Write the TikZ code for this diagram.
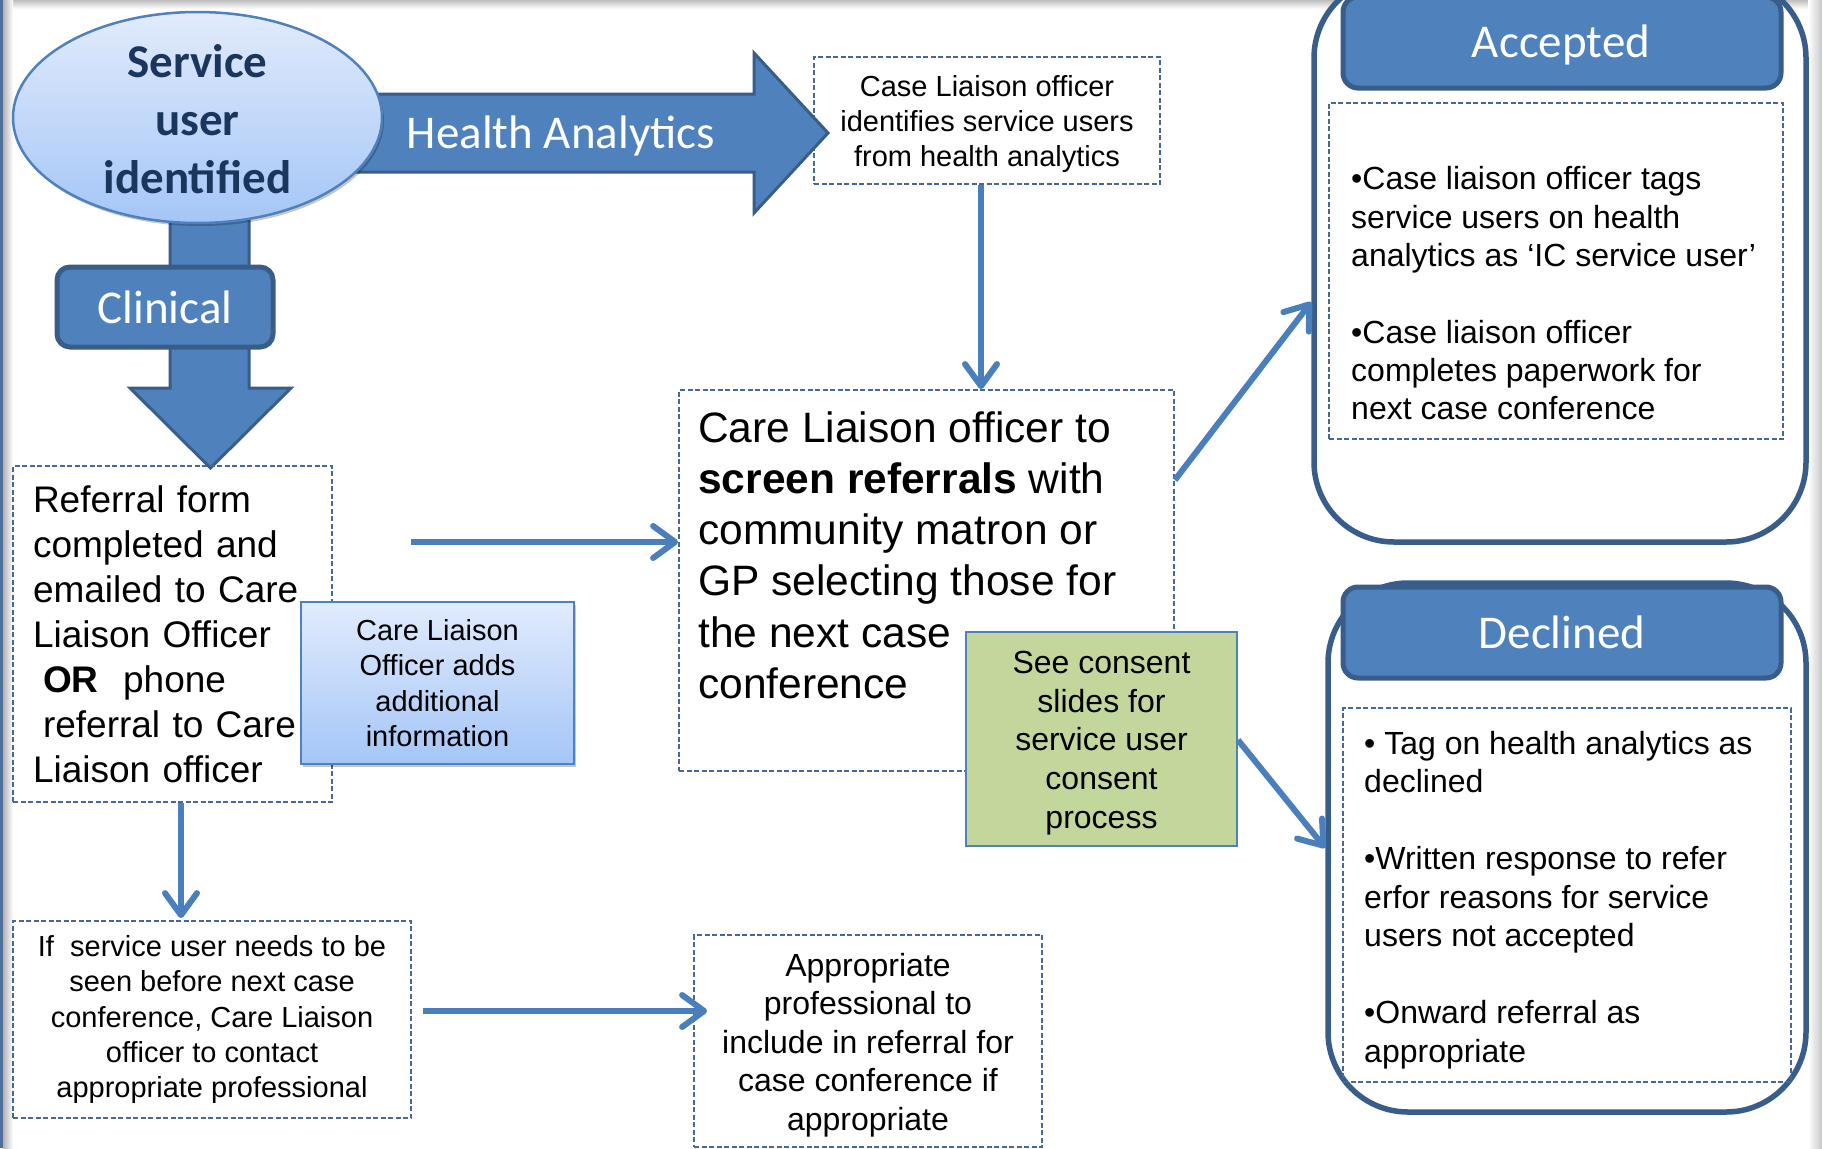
\documentclass[tikz,border=0pt]{standalone}
\usepackage{fontspec}
\setmainfont{Liberation Sans}
\newfontfamily\calfont{Carlito}
\usetikzlibrary{arrows.meta,shadows,calc,shapes.geometric}

\definecolor{blueMain}{HTML}{4F81BD}
\definecolor{blueDark}{HTML}{385D8A}
\definecolor{dashCol}{HTML}{46679A}
\definecolor{navy}{HTML}{1B365D}
\definecolor{lightTop}{HTML}{E1EBFC}
\definecolor{lightBot}{HTML}{A4C6F7}
\definecolor{sage}{HTML}{C3D69B}
\definecolor{connCol}{HTML}{4A7EBD}
\definecolor{edgeBlue}{HTML}{4F6F9A}

\begin{document}
\begin{tikzpicture}[x=1pt,y=-1pt,
  dashbox/.style={rectangle, draw=dashCol, line width=1.8pt, dash pattern=on 5pt off 2.5pt, inner sep=0pt},
  sz/.style 2 args={minimum width=#1, minimum height=#2},
  blockarrow/.style={fill=blueMain, draw=blueDark, line width=3pt, line join=miter},
  tab/.style={rectangle, fill=blueMain, draw=blueDark, line width=5pt},
  group/.style={rectangle, rounded corners=80pt, draw=blueDark, line width=5.5pt, fill=white},
  label/.style={text=white, font=\calfont\fontsize{47}{57}\selectfont, inner sep=0pt},
  txt/.style={inner sep=0pt, align=center},
  conn/.style={draw=connCol, line width=6pt, -{Straight Barb[length=22pt 0 0, width=32pt 0 0, round]}},
  softshadow/.style={drop shadow={shadow xshift=2pt, shadow yshift=-3pt, opacity=0.22, fill=black}}
]
% page and its edge shading
\useasboundingbox (0,0) rectangle (1822,1148);
\fill[white] (0,0) rectangle (1822,1148);
\fill[top color=black!25, bottom color=white] (0,0) rectangle (1822,9);
\fill[left color=white, right color=black!22] (1808,0) rectangle (1822,1148);
\fill[left color=black!30, right color=white] (3,0) rectangle (13,1148);
\fill[edgeBlue] (0,0) rectangle (3,1148);

% health analytics branch
\node[dashbox, sz={346pt}{127pt}] (cl) at (987,120.5) {};
\node[txt, font=\fontsize{29}{35}\selectfont] (clT) at ($(cl.center)+(0,3.5)$)
  {Case Liaison officer\\identifies service users\\from health analytics};
\draw[blockarrow] (330,94) -- (754,94) -- (754,53) -- (828,133) -- (754,213) -- (754,172) -- (330,172) -- cycle;
% clinical branch
\draw[blockarrow] (170,200) -- (170,388) -- (130,388) -- (210.5,468) -- (291,388) -- (249,388) -- (249,200) -- cycle;

% starting point
\node[ellipse, sz={369pt}{211pt}, inner sep=0pt, draw=blueMain, line width=2.5pt,
  top color=lightTop, bottom color=lightBot, softshadow] (su) at (197.5,117.5) {};
\node[txt, font=\calfont\bfseries\fontsize{47}{58}\selectfont, text=navy] (suT) at ($(su.center)+(0,1.5)$)
  {Service\\user\\identified};
\node[label, anchor=base] (ha) at (561,148) {Health Analytics};
\node[tab, rounded corners=13pt, sz={216pt}{80pt}] (clin) at (165,307) {};
\node[label, anchor=base] (clinT) at (165,323) {Clinical};

% referral
\node[dashbox, sz={319pt}{336pt}, text width=279pt, align=left, font=\fontsize{37}{45}\selectfont] (ref) at (172.5,634)
  {Referral form\\completed and\\emailed to Care\\Liaison Officer\\\hspace*{10pt}\textbf{OR}~~phone\\\hspace*{10pt}referral to Care\\Liaison officer};
\node[rectangle, draw=blueMain, line width=2pt, top color=lightTop, bottom color=lightBot, softshadow,
  sz={273pt}{162pt}, inner sep=0pt, align=center, font=\fontsize{29}{35.3}\selectfont] (adds) at (437.5,683)
  {Care Liaison\\Officer adds\\additional\\information};

% screening
\node[dashbox, sz={495pt}{381pt}] (screen) at (926.5,580.5) {};
\node[anchor=north west, inner sep=0pt, align=left, font=\fontsize{42.5}{51.3}\selectfont] (screenT) at (698,411)
  {Care Liaison officer to\\\textbf{screen referrals} with\\community matron or\\GP selecting those for\\the next case\\conference};
\node[rectangle, fill=sage, draw=blueMain, line width=2pt, sz={271pt}{214pt}] (consent) at (1101.5,739) {};
\node[txt, font=\fontsize{32}{38.6}\selectfont] (consentT) at ($(consent.center)+(0,4)$)
  {See consent\\slides for\\service user\\consent\\process};

% early contact
\node[dashbox, sz={398pt}{197pt}, align=center, font=\fontsize{29}{35.2}\selectfont] (ifb) at (212,1019.5)
  {If~~service user needs to be\\seen before next case\\conference, Care Liaison\\officer to contact\\appropriate professional};
\node[dashbox, sz={348pt}{212pt}] (appr) at (868,1041) {};
\node[txt, font=\fontsize{32}{38.4}\selectfont] (apprT) at ($(appr.center)+(0,4)$)
  {Appropriate\\professional to\\include in referral for\\case conference if\\appropriate};

% accepted
\node[group, sz={492pt}{564pt}] (acc) at (1560,260) {};
\node[tab, rounded corners=15pt, sz={438pt}{91pt}] (accH) at (1562,42.5) {};
\node[label, anchor=base] (accT) at (1561,57) {Accepted};
\node[dashbox, sz={454pt}{336pt}] (accB) at (1556,271) {};
\node[anchor=north west, inner sep=0pt, align=left, font=\fontsize{32}{38.35}\selectfont] (accL) at (1351,166.5)
  {•Case liaison officer tags\\service users on health\\analytics as ‘IC service user’\\[38.35pt]•Case liaison officer\\completes paperwork for\\next case conference};

% declined
\node[group, sz={478pt}{529pt}] (dec) at (1567,847.5) {};
\node[tab, rounded corners=15pt, sz={438pt}{91pt}] (decH) at (1562,632.5) {};
\node[label, anchor=base] (decT) at (1562,648) {Declined};
\node[dashbox, sz={448pt}{374pt}] (decB) at (1567,895) {};
\node[anchor=north west, inner sep=0pt, align=left, font=\fontsize{32}{38.5}\selectfont] (decL) at (1364,731)
  {•~Tag on health analytics as\\declined\\[38.5pt]•Written response to refer\\erfor reasons for service\\users not accepted\\[38.5pt]•Onward referral as\\appropriate};

% connectors
\coordinate (refOut) at (411,542);
\coordinate (ifOut) at ($(ifb.east)+(11,-8.5)$);
\draw[conn] ($(cl.south)+(-6,0)$) -- ($(cl.south |- screen.north)+(-6,0)$);
\draw[conn] (refOut) -- (refOut -| screen.west);
\draw[conn] ($(ref.south)+(8.5,0)$) -- ($(ref.south |- ifb.north)+(8.5,-2)$);
\draw[conn] (ifOut) -- ($(ifOut -| appr.west)+(14,0)$);
\draw[conn] (screen.east |- 0,480) -- (acc.west |- 0,302);
\draw[conn] (consent.east |- 0,740) -- (dec.west |- 0,848);
\end{tikzpicture}
\end{document}
